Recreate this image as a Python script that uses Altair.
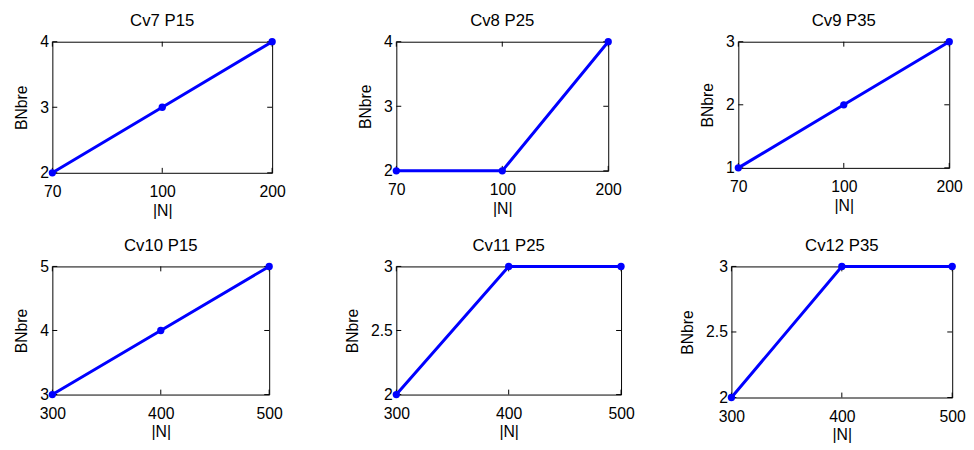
import altair as alt
import pandas as pd

# ---- data ----
titles = ["Cv7 P15", "Cv8 P25", "Cv9 P35", "Cv10 P15", "Cv11 P25", "Cv12 P35"]
n_top = [70, 100, 200]
n_bottom = [300, 400, 500]
bnbre_cv7 = [2, 3, 4]
bnbre_cv8 = [2, 2, 4]
bnbre_cv9 = [1, 2, 3]
bnbre_cv10 = [3, 4, 5]
bnbre_cv11 = [2, 3, 3]
bnbre_cv12 = [2, 3, 3]
yticks_cv7 = [2, 3, 4]
yticks_cv8 = [2, 3, 4]
yticks_cv9 = [1, 2, 3]
yticks_cv10 = [3, 4, 5]
yticks_cv11 = [2, 2.5, 3]
yticks_cv12 = [2, 2.5, 3]

FONT = "Liberation Sans"
BLUE = "#0000FF"
TL = 5  # inward tick length


def panel(title, n, b, yticks, w, h):
    df = pd.DataFrame({"N": n, "BNbre": b})
    tdf = pd.DataFrame({"BNbre": yticks})
    x = alt.X("N:O", sort=n, scale=alt.Scale(type="point", padding=0),
              axis=alt.Axis(title="|N|", labelAngle=0, labelPadding=11, titlePadding=3))
    y = alt.Y("BNbre:Q",
              scale=alt.Scale(domain=[yticks[0], yticks[-1]], nice=False, zero=False),
              axis=alt.Axis(title="BNbre", values=yticks, format="~g",
                            labelPadding=4, titlePadding=10))
    line = alt.Chart(df).mark_line(color=BLUE, strokeWidth=3).encode(x=x, y=y)
    pts = alt.Chart(df).mark_circle(color=BLUE, size=55, opacity=1).encode(x=x, y=y)
    xt_b = alt.Chart(df).mark_rule(color="black", strokeWidth=1).encode(
        x=x, y=alt.value(h), y2=alt.value(h - TL))
    xt_t = alt.Chart(df).mark_rule(color="black", strokeWidth=1).encode(
        x=x, y=alt.value(0), y2=alt.value(TL))
    yt_l = alt.Chart(tdf).mark_rule(color="black", strokeWidth=1).encode(
        y=y, x=alt.value(0), x2=alt.value(TL))
    yt_r = alt.Chart(tdf).mark_rule(color="black", strokeWidth=1).encode(
        y=y, x=alt.value(w - TL), x2=alt.value(w))
    return alt.layer(xt_b, xt_t, yt_l, yt_r, line, pts).properties(
        width=w, height=h, title=title,
    )


p1 = panel(titles[0], n_top, bnbre_cv7, yticks_cv7, 223, 133)
p2 = panel(titles[1], n_top, bnbre_cv8, yticks_cv8, 215, 131)
p3 = panel(titles[2], n_top, bnbre_cv9, yticks_cv9, 214, 128)
p4 = panel(titles[3], n_bottom, bnbre_cv10, yticks_cv10, 220, 130)
p5 = panel(titles[4], n_bottom, bnbre_cv11, yticks_cv11, 228, 130)
p6 = panel(titles[5], n_bottom, bnbre_cv12, yticks_cv12, 224, 133)

row1 = alt.hconcat(alt.hconcat(p1, p2, spacing=72), p3, spacing=78)
row2 = alt.hconcat(alt.hconcat(p4, p5, spacing=62), p6, spacing=45)

chart = alt.vconcat(row1, row2, spacing=17).properties(
    padding={"left": 5, "top": 0, "right": 0, "bottom": 0},
    background="white",
).configure_view(
    stroke="black", strokeWidth=1
).configure_axis(
    domain=False, ticks=False, grid=False,
    labelFont=FONT, labelFontSize=16, labelColor="black",
    titleFont=FONT, titleFontSize=16, titleFontWeight="normal", titleColor="black",
).configure_title(
    font=FONT, fontSize=17, fontWeight="normal", color="black",
    anchor="middle", frame="group", offset=4,
)

chart.save("out.html", embed_options={"renderer": "svg", "actions": False})
